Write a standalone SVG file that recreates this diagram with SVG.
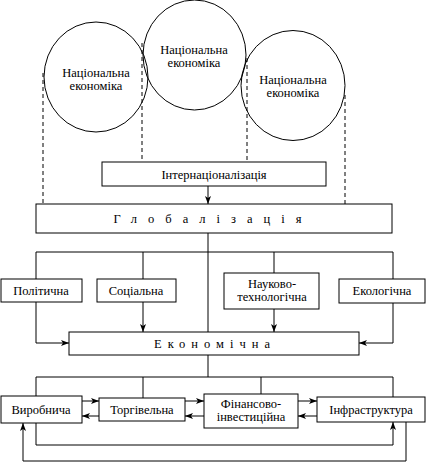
<svg xmlns="http://www.w3.org/2000/svg" width="428" height="462" viewBox="0 0 428 462">
<style>
text{font-family:"Liberation Serif","DejaVu Serif","Times New Roman",serif;font-size:12.5px;fill:#000;text-anchor:middle}
.b{fill:#fff;stroke:#000;stroke-width:1}
.c{fill:none;stroke:#000;stroke-width:1}
.d{fill:none;stroke:#000;stroke-width:1;stroke-dasharray:4,3}
.l{fill:none;stroke:#000;stroke-width:1}
.a{fill:none;stroke:#000;stroke-width:1;marker-end:url(#ar)}
</style>
<defs>
<marker id="ar" markerWidth="8" markerHeight="6" refX="8" refY="3" orient="auto" markerUnits="userSpaceOnUse">
<path d="M0,0 L8,3 L0,6 L2,3 z" fill="#000"/>
</marker>
</defs>
<rect width="428" height="462" fill="#fff"/>
<g id="connectors">
<path class="d" d="M43,73 V204 M142,43 V162 M247,58 V162 M345,95 V204"/>
<path class="a" d="M208,186 V204"/>
<path class="l" d="M208,233 V332 M36,252 H393 M36,252 V279 M143,252 V279 M274,252 V273 M393,252 V279"/>
<path class="a" d="M36,302 V343 H69"/>
<path class="a" d="M143,302 V332"/>
<path class="a" d="M274,309 V332"/>
<path class="a" d="M393,303 V343 H359"/>
<path class="l" d="M208,355 V377 M36,377 H393 M36,377 V396 M143,377 V398 M261,377 V394 M393,377 V397"/>
<path class="a" d="M82,401 H99"/>
<path class="a" d="M99,416 H82"/>
<path class="a" d="M185,401 H204"/>
<path class="a" d="M204,416 H185"/>
<path class="a" d="M298,401 H317"/>
<path class="a" d="M317,416 H298"/>
<path class="a" d="M36,423 V445 H393 V422"/>
<path class="a" d="M406,422 V461 H23 V423"/>
</g>
<g id="ne1"><ellipse class="c" cx="96" cy="77" rx="52" ry="55"/><text x="96" y="77">Національна</text><text x="96" y="90">економіка</text></g>
<g id="ne2"><ellipse class="c" cx="194.5" cy="55" rx="51.5" ry="55"/><text x="194" y="54">Національна</text><text x="194" y="67">економіка</text></g>
<g id="ne3"><ellipse class="c" cx="293" cy="85.5" rx="52" ry="55"/><text x="293" y="84">Національна</text><text x="293" y="97">економіка</text></g>
<g id="intern"><rect class="b" x="102" y="162" width="224" height="24"/><text x="214" y="179">Інтернаціоналізація</text></g>
<g id="glob"><rect class="b" x="36" y="204" width="356" height="29"/><text x="213" y="223" style="letter-spacing:11px">Глобалізація</text></g>
<g id="polit"><rect class="b" x="1" y="279" width="81" height="23"/><text x="41" y="295">Політична</text></g>
<g id="soc"><rect class="b" x="97" y="279" width="79" height="23"/><text x="136" y="295">Соціальна</text></g>
<g id="nauk"><rect class="b" x="224" y="273" width="95" height="36"/><text x="272" y="288">Науково-</text><text x="272" y="301">технологічна</text></g>
<g id="ekol"><rect class="b" x="339" y="279" width="86" height="24"/><text x="382" y="295">Екологічна</text></g>
<g id="ekon"><rect class="b" x="69" y="332" width="290" height="23"/><text x="215" y="348" style="letter-spacing:6px">Економічна</text></g>
<g id="vyrob"><rect class="b" x="1" y="396" width="81" height="27"/><text x="41" y="414">Виробнича</text></g>
<g id="torg"><rect class="b" x="99" y="398" width="86" height="23"/><text x="142" y="414">Торгівельна</text></g>
<g id="fin"><rect class="b" x="204" y="394" width="94" height="34"/><text x="251" y="408">Фінансово-</text><text x="251" y="421">інвестиційна</text></g>
<g id="infra"><rect class="b" x="317" y="397" width="108" height="25"/><text x="371" y="414">Інфраструктура</text></g>
</svg>
